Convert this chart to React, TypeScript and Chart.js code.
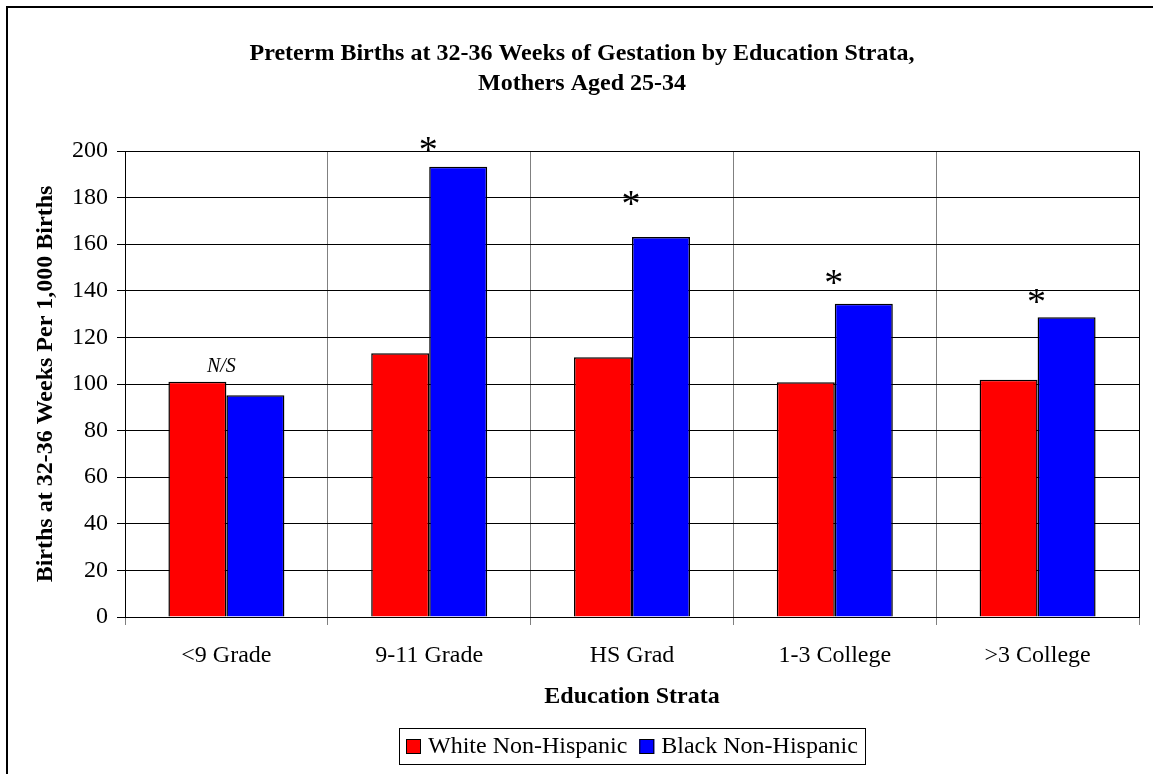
import React, { useEffect, useRef } from "react";
import { Chart, registerables } from "chart.js";

Chart.register(...registerables);

const SERIF = "'Liberation Serif', 'Times New Roman', Times, serif";

const categories = ["<9 Grade", "9-11 Grade", "HS Grad", "1-3 College", ">3 College"];
const seriesNames = ["White Non-Hispanic", "Black Non-Hispanic"];
const whiteRates = [101, 113.2, 111.5, 100.8, 101.8];
const blackRates = [95.2, 193.2, 163.1, 134.4, 128.7];
const seriesColors = ["#FF0000", "#0000FF"];
const markTexts = ["N/S", "*", "*", "*", "*"];
const markLevels = [108, 202.9, 179.5, 145.6, 137.7];
const yMin = 0;
const yMax = 200;
const yStep = 20;
const titleLines = [
  "Preterm Births at 32-36 Weeks of Gestation by Education Strata,",
  "Mothers Aged 25-34",
];
const yTitle = "Births at 32-36 Weeks Per 1,000 Births";
const xTitle = "Education Strata";

const framePlugin = {
  id: "frame",
  afterDraw(chart: any) {
    const { ctx, chartArea } = chart;
    ctx.save();
    ctx.strokeStyle = "#000";
    ctx.lineWidth = 1;
    ctx.strokeRect(
      Math.round(chartArea.left) + 0.5,
      Math.round(chartArea.top) + 0.5,
      Math.round(chartArea.right - chartArea.left),
      Math.round(chartArea.bottom - chartArea.top)
    );
    ctx.lineWidth = 2;
    ctx.strokeRect(7, 7, 1200, 820);
    ctx.restore();
  },
};

const marksPlugin = {
  id: "marks",
  afterDatasetsDraw(chart: any) {
    const { ctx, scales } = chart;
    const x = scales.x;
    const y = scales.y;
    ctx.save();
    ctx.fillStyle = "#000";
    ctx.textAlign = "center";
    ctx.textBaseline = "alphabetic";
    markTexts.forEach((t, i) => {
      ctx.font = t === "*" ? `38px ${SERIF}` : `italic 20px ${SERIF}`;
      const m = ctx.measureText(t);
      const cx = x.getPixelForValue(i) - (t === "*" ? 1 : 5);
      const cy = y.getPixelForValue(markLevels[i]);
      const base = cy + (m.actualBoundingBoxAscent - m.actualBoundingBoxDescent) / 2;
      ctx.fillText(t, cx, base);
    });
    ctx.restore();
  },
};

const legendPlugin = {
  id: "customLegend",
  afterDraw(chart: any) {
    const { ctx, chartArea } = chart;
    ctx.save();
    ctx.font = `24px ${SERIF}`;
    const box = 15;
    const gapText = 7;
    const gapItem = 12;
    const padX = 7;
    const widths = chart.data.datasets.map((d: any) => ctx.measureText(d.label).width);
    let total = padX * 2;
    widths.forEach((w: number, i: number) => {
      total += box + gapText + w + (i > 0 ? gapItem : 0);
    });
    const cxMid = (chartArea.left + chartArea.right) / 2;
    const left = Math.round(cxMid - total / 2);
    const top = 728;
    const height = 36;
    const midY = top + height / 2;
    ctx.strokeStyle = "#000";
    ctx.lineWidth = 1;
    ctx.strokeRect(left + 0.5, top + 0.5, Math.round(total), height);
    let xPos = left + padX;
    chart.data.datasets.forEach((d: any, i: number) => {
      if (i > 0) xPos += gapItem;
      ctx.fillStyle = d.backgroundColor;
      ctx.fillRect(xPos, midY - 7, box, box);
      ctx.strokeRect(xPos + 0.5, midY - 7 + 0.5, box - 1, box - 1);
      xPos += box + gapText;
      ctx.fillStyle = "#000";
      ctx.textAlign = "left";
      ctx.textBaseline = "middle";
      ctx.fillText(d.label, xPos, midY + 1);
      xPos += widths[i];
    });
    ctx.restore();
  },
};

export default function App() {
  const ref = useRef<HTMLCanvasElement>(null);

  useEffect(() => {
    if (!ref.current) return;
    const chart = new Chart(ref.current, {
      type: "bar",
      data: {
        labels: categories,
        datasets: [
          {
            label: seriesNames[0],
            data: whiteRates,
            backgroundColor: seriesColors[0],
            borderColor: "#000",
            borderWidth: 1.5,
            categoryPercentage: 0.572,
            barPercentage: 1,
          },
          {
            label: seriesNames[1],
            data: blackRates,
            backgroundColor: seriesColors[1],
            borderColor: "#000",
            borderWidth: 1.5,
            categoryPercentage: 0.572,
            barPercentage: 1,
          },
        ],
      },
      options: {
        responsive: false,
        animation: false,
        devicePixelRatio: 1,
        layout: { padding: { left: 25, right: 14, top: 0, bottom: 60 } },
        plugins: {
          legend: { display: false },
          tooltip: { enabled: false },
          title: {
            display: true,
            text: titleLines,
            color: "#000",
            font: { family: SERIF, size: 24, weight: "bold", lineHeight: 1.25 },
            padding: { top: 39, bottom: 52 },
          },
        },
        scales: {
          x: {
            afterFit(scale: any) {
              scale.height = 97;
            },
            grid: {
              color: "#808080",
              lineWidth: 1,
              offset: true,
              drawTicks: true,
              tickLength: 8,
            },
            border: { color: "#000", width: 1 },
            ticks: {
              color: "#000",
              padding: 16,
              font: { family: SERIF, size: 24 },
              maxRotation: 0,
              autoSkip: false,
            },
            title: {
              display: true,
              text: xTitle,
              color: "#000",
              font: { family: SERIF, size: 24, weight: "bold" },
              padding: { top: 0, bottom: 3 },
            },
          },
          y: {
            min: yMin,
            max: yMax,
            afterFit(scale: any) {
              scale.width = 100;
            },
            grid: {
              color: "#000",
              lineWidth: 1,
              drawTicks: true,
              tickLength: 8,
            },
            border: { color: "#000", width: 1 },
            ticks: {
              stepSize: yStep,
              color: "#000",
              padding: 9,
              font: { family: SERIF, size: 24 },
            },
            title: {
              display: true,
              text: yTitle,
              color: "#000",
              font: { family: SERIF, size: 24, weight: "bold" },
              padding: { top: 6, bottom: 0 },
            },
          },
        },
      },
      plugins: [marksPlugin, legendPlugin, framePlugin],
    } as any);
    return () => chart.destroy();
  }, []);

  return (
    <canvas
      ref={ref}
      width={1153}
      height={774}
      style={{ position: "fixed", left: 0, top: 0, width: 1153, height: 774, display: "block" }}
    />
  );
}
